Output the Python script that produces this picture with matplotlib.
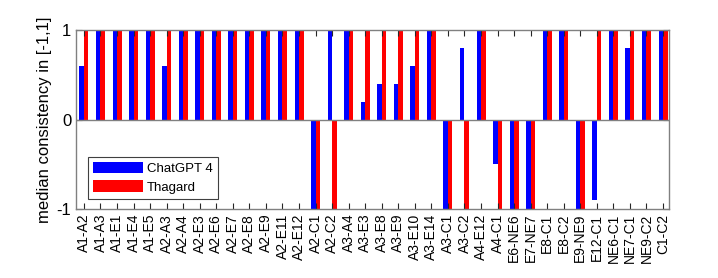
import matplotlib.pyplot as plt
import numpy as np

plt.rcParams["font.family"] = ["Liberation Sans", "DejaVu Sans"]

pairs = ["A1-A2", "A1-A3", "A1-E1", "A1-E4", "A1-E5", "A2-A3", "A2-A4", "A2-E3",
         "A2-E6", "A2-E7", "A2-E8", "A2-E9", "A2-E11", "A2-E12", "A2-C1", "A2-C2",
         "A3-A4", "A3-E3", "A3-E8", "A3-E9", "A3-E10", "A3-E14", "A3-C1", "A3-C2",
         "A4-E12", "A4-C1", "E6-NE6", "E7-NE7", "E8-C1", "E8-C2", "E9-NE9", "E12-C1",
         "NE6-C1", "NE7-C1", "NE9-C2", "C1-C2"]

chatgpt = [0.6, 1, 1, 1, 1, 0.6, 1, 1,
           1, 1, 1, 1, 1, 1, -1, 1,
           1, 0.2, 0.4, 0.4, 0.6, 1, -1, 0.8,
           1, -0.5, -1, -1, 1, 1, -1, -0.9,
           1, 0.8, 1, 1]

thagard = [1, 1, 1, 1, 1, 1, 1, 1,
           1, 1, 1, 1, 1, 1, -1, -1,
           1, 1, 1, 1, 1, 1, -1, -1,
           1, -1, -1, -1, 1, 1, -1, 1,
           1, 1, 1, 1]

x = np.arange(len(pairs))
w = 0.27

fig = plt.figure(figsize=(7.18, 2.78), dpi=100)
ax = fig.add_axes([76 / 718, 1 - 209 / 278, 593 / 718, 179 / 278])

ax.bar(x - w / 2, chatgpt, width=w, color="#0000ff", label="ChatGPT 4")
ax.bar(x + w / 2, thagard, width=w, color="#ff0000", label="Thagard")
ax.axhline(0, color="#808080", linewidth=1.0)

ax.set_xlim(-0.48, len(pairs) - 1 + 0.36)
ax.set_ylim(-1, 1)
ax.set_yticks([-1, 0, 1])
ax.set_yticklabels(["-1", "0", "1"])
ax.set_xticks(x)
ax.set_xticklabels(pairs, rotation=90, fontsize=10)
ax.tick_params(axis="y", labelsize=12)
ax.tick_params(direction="in", top=True, right=True, length=4, color="#262626")
for s in ax.spines.values():
    s.set_color("#808080")
    s.set_linewidth(1.0)
ax.set_ylabel("median consistency in [-1,1]", fontsize=12, labelpad=3)

leg = ax.legend(loc="lower left", bbox_to_anchor=(0.02, 0.056), fontsize=9.5,
                fancybox=False, framealpha=1, edgecolor="#404040",
                handlelength=3.8, handleheight=0.95, borderpad=0.4,
                labelspacing=0.4, handletextpad=0.3, borderaxespad=0)
leg.get_frame().set_linewidth(0.8)

fig.savefig("out.png", dpi=100)
